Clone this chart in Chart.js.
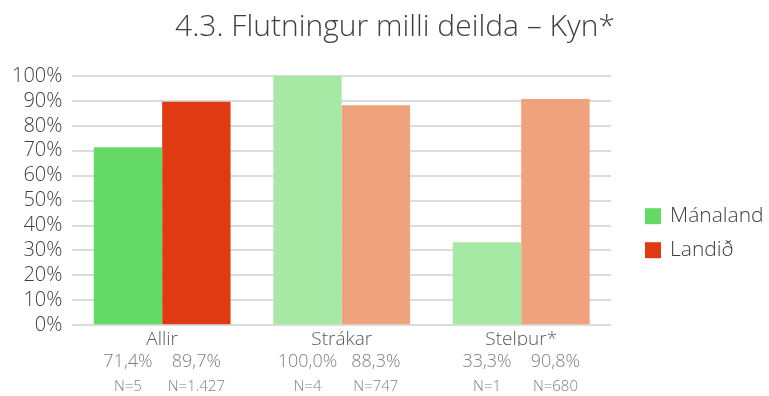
<!DOCTYPE html>
<html>
<head>
<meta charset="utf-8">
<script src="https://cdn.jsdelivr.net/npm/chart.js@4.4.1/dist/chart.umd.min.js"></script>
<style>
  html, body { margin: 0; padding: 0; background: #fff; }
  #wrap { width: 769px; height: 396px; }
</style>
</head>
<body>
<div id="wrap"><canvas id="chart"></canvas></div>
<script>
// categories and series
const categories = ['Allir', 'Strákar', 'Stelpur*'];
const seriesNames = ['Mánaland', 'Landið'];
const manaland = [71.4, 100.0, 33.3];
const landid = [89.7, 88.3, 90.8];
const manalandN = ['N=5', 'N=4', 'N=1'];
const landidN = ['N=1.427', 'N=747', 'N=680'];
const chartTitle = '4.3. Flutningur milli deilda – Kyn*';

// first group solid, the gender groups in paler shades
const greens = ['#65d966', '#a5e9a5', '#a5e9a5'];
const reds = ['#e03a13', '#efa27b', '#efa27b'];

const FONT = "'Open Sans', 'Lato', sans-serif";

const fmtPct = v => v.toFixed(1).replace('.', ',') + '%';

// title, value + N rows under each bar, and the legend on the right
const extras = {
  id: 'extras',
  afterDraw(chart) {
    const ctx = chart.ctx;
    const area = chart.chartArea;
    ctx.save();
    ctx.textAlign = 'center';
    ctx.textBaseline = 'middle';

    ctx.fillStyle = '#404040';
    ctx.font = '300 30px ' + FONT;
    ctx.fillText(chartTitle, 395, 27);

    const rows = [[manaland, manalandN], [landid, landidN]];
    rows.forEach(([vals, ns], di) => {
      const meta = chart.getDatasetMeta(di);
      meta.data.forEach((bar, i) => {
        ctx.fillStyle = '#7f7f7f';
        ctx.font = '300 18px ' + FONT;
        ctx.fillText(fmtPct(vals[i]), bar.x, area.bottom + 37);
        ctx.font = '300 15px ' + FONT;
        ctx.fillText(ns[i], bar.x, area.bottom + 62);
      });
    });

    // legend
    const lx = area.right + 34;
    const colors = [greens[0], reds[0]];
    ctx.textAlign = 'left';
    ctx.font = '300 21px ' + FONT;
    seriesNames.forEach((name, i) => {
      const cy = area.bottom - 109 + i * 34;
      ctx.fillStyle = colors[i];
      ctx.fillRect(lx, cy - 8, 16, 16);
      ctx.fillStyle = '#404040';
      ctx.fillText(name, lx + 25, cy);
    });
    ctx.restore();
  }
};

new Chart(document.getElementById('chart'), {
  type: 'bar',
  data: {
    labels: categories,
    datasets: [
      { label: seriesNames[0], data: manaland, backgroundColor: greens, borderWidth: 0 },
      { label: seriesNames[1], data: landid, backgroundColor: reds, borderWidth: 0 }
    ]
  },
  options: {
    responsive: true,
    maintainAspectRatio: false,
    animation: false,
    layout: { padding: { left: 2, right: 158, top: 76, bottom: 50 } },
    datasets: { bar: { barPercentage: 1.0, categoryPercentage: 0.762 } },
    plugins: {
      legend: { display: false },
      tooltip: { enabled: false },
      title: { display: false }
    },
    scales: {
      x: {
        grid: { display: false },
        border: { display: false },
        ticks: { color: '#595959', font: { family: FONT, size: 19, weight: '300' }, padding: -5 }
      },
      y: {
        min: 0,
        max: 100,
        border: { display: false },
        grid: { color: '#dcdcdc', lineWidth: 2, drawTicks: false },
        ticks: {
          stepSize: 10,
          autoSkip: false,
          padding: 10,
          color: '#404040',
          font: { family: FONT, size: 20, weight: '300' },
          callback: v => v + '%'
        }
      }
    }
  },
  plugins: [extras]
});
</script>
</body>
</html>
